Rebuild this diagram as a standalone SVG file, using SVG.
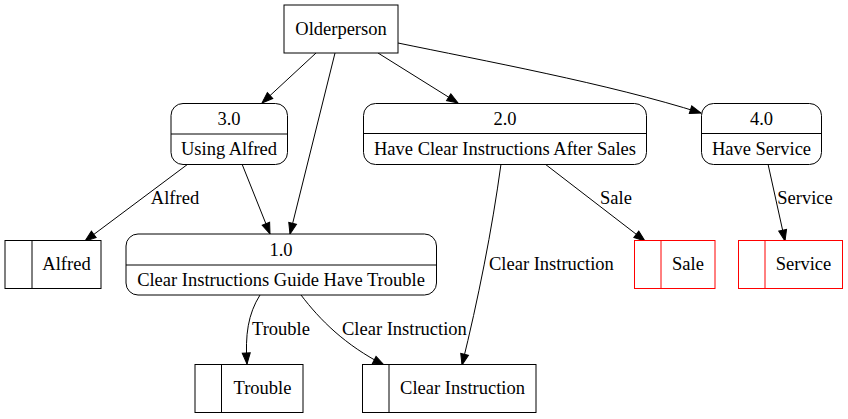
<svg xmlns="http://www.w3.org/2000/svg" width="848" height="419" viewBox="0 0 848 419" font-family="'Liberation Serif', serif" font-size="18.5">
<defs>
<marker id="ah" markerWidth="13" markerHeight="10" refX="11" refY="4" orient="auto" markerUnits="userSpaceOnUse" overflow="visible">
<path d="M0,0 L11,4 L0,8 z" fill="#000" stroke="#000" stroke-width="1"/>
</marker>
<style>
text{font-family:'Liberation Serif','Times New Roman',serif;font-size:18.5px;fill:#000}
.c{text-anchor:middle}
.n{fill:#fff;stroke:#000;stroke-width:1}
.r{fill:#fff;stroke:#ff0000;stroke-width:1}
.l{stroke:#000;stroke-width:1}
.lr{stroke:#ff0000;stroke-width:1}
.e{fill:none;stroke:#000;stroke-width:1;marker-end:url(#ah)}
</style>
</defs>
<rect width="848" height="419" fill="#fff"/>
<g id="connectors">
<path class="e" d="M316,53 L262,103"/>
<path class="e" d="M335,53 L290,234"/>
<path class="e" d="M242,164 L270,234"/>
<path class="e" d="M188,164 L85,241"/>
<text x="175" y="204" class="c">Alfred</text>
<path class="e" d="M378,53 L458,103"/>
<path class="e" d="M398,43 C480,60 610,84 701,113"/>
<path class="e" d="M545,164 L645,241"/>
<text x="616" y="204" class="c">Sale</text>
<path class="e" d="M501,164 C492,230 478,300 462,365"/>
<text x="489" y="270">Clear Instruction</text>
<path class="e" d="M768,164 L785,241"/>
<text x="805" y="204" class="c">Service</text>
<path class="e" d="M260,295 C248,314 245,335 247,364"/>
<text x="252" y="335">Trouble</text>
<path class="e" d="M301,295 C320,320 345,345 384,365"/>
<text x="342" y="335">Clear Instruction</text>
</g>
<g id="olderperson">
<rect class="n" x="284" y="5" width="114" height="48"/>
<text x="341" y="35" class="c">Olderperson</text>
</g>
<g id="p3">
<rect class="n" x="171" y="103.5" width="116.5" height="61" rx="12"/>
<line class="l" x1="171" y1="134" x2="287.5" y2="134"/>
<text x="229" y="125" class="c">3.0</text>
<text x="229" y="155" class="c">Using Alfred</text>
</g>
<g id="p2">
<rect class="n" x="363.5" y="103.5" width="283" height="61" rx="12"/>
<line class="l" x1="363.5" y1="133.5" x2="646.5" y2="133.5"/>
<text x="505" y="125" class="c">2.0</text>
<text x="505" y="155" class="c">Have Clear Instructions After Sales</text>
</g>
<g id="p4">
<rect class="n" x="701.5" y="103.5" width="120" height="61" rx="12"/>
<line class="l" x1="701.5" y1="133.5" x2="821.5" y2="133.5"/>
<text x="761.5" y="125" class="c">4.0</text>
<text x="761.5" y="155" class="c">Have Service</text>
</g>
<g id="p1">
<rect class="n" x="126" y="234" width="310.5" height="61" rx="12"/>
<line class="l" x1="126" y1="265" x2="436.5" y2="265"/>
<text x="281" y="256" class="c">1.0</text>
<text x="281" y="286" class="c">Clear Instructions Guide Have Trouble</text>
</g>
<g id="alfred">
<rect class="n" x="5" y="240.5" width="96" height="48"/>
<line class="l" x1="32" y1="240.5" x2="32" y2="288.5"/>
<text x="66.5" y="270" class="c">Alfred</text>
</g>
<g id="sale">
<rect class="r" x="634.5" y="240.5" width="80.5" height="48"/>
<line class="lr" x1="661" y1="240.5" x2="661" y2="288.5"/>
<text x="688" y="270" class="c">Sale</text>
</g>
<g id="service">
<rect class="r" x="738.5" y="240.5" width="104" height="48"/>
<line class="lr" x1="765" y1="240.5" x2="765" y2="288.5"/>
<text x="803.5" y="270" class="c">Service</text>
</g>
<g id="trouble">
<rect class="n" x="195" y="364.5" width="108" height="48"/>
<line class="l" x1="221.5" y1="364.5" x2="221.5" y2="412.5"/>
<text x="262.5" y="394" class="c">Trouble</text>
</g>
<g id="clearinstruction">
<rect class="n" x="362.5" y="364.5" width="173.5" height="48"/>
<line class="l" x1="389" y1="364.5" x2="389" y2="412.5"/>
<text x="462.5" y="394" class="c">Clear Instruction</text>
</g>
</svg>
